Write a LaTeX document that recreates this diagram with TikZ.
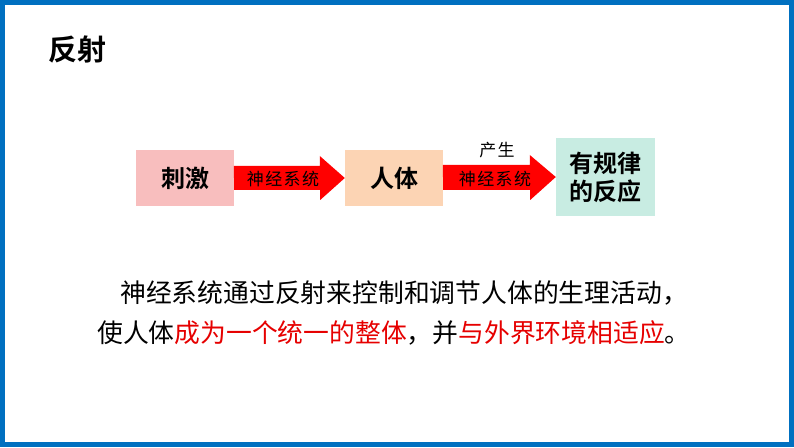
\documentclass[tikz,border=0pt]{standalone}
\usepackage{fontspec}
\newfontfamily\cjk{Noto Sans CJK SC}
\newfontfamily\cjkb{Noto Sans CJK SC Bold}
\definecolor{frameblue}{RGB}{0,112,192}
\definecolor{pinkbox}{RGB}{248,190,190}
\definecolor{peachbox}{RGB}{252,212,180}
\definecolor{mintbox}{RGB}{200,236,226}
\definecolor{redtxt}{RGB}{230,0,0}
\tikzset{x=1pt,y=1pt,
 box/.style={inner sep=0pt,font=\cjkb\fontsize{24}{28}\selectfont,align=center},
 arr/.style={fill=red,draw=none},
 alab/.style={font=\cjk\fontsize{17}{18}\selectfont\addfontfeature{LetterSpace=8}},
 body/.style={font=\cjk\fontsize{25.8}{28}\selectfont,anchor=west,inner sep=0pt}}
\begin{document}
\begin{tikzpicture}
\useasboundingbox (0,0) rectangle (794,447);
\fill[white] (0,0) rectangle (794,447);
\draw[frameblue,line width=5pt] (2.5,2.5) rectangle (791.5,444.5);
\node[font=\cjkb\fontsize{29}{32}\selectfont,anchor=west,inner sep=0pt] (title) at (48,398) {反射};
\node[box,fill=pinkbox,minimum width=98,minimum height=56] (b1) at (185,269) {刺激};
\node[box,fill=peachbox,minimum width=98,minimum height=56] (b2) at (394,269) {人体};
\node[box,fill=mintbox,minimum width=99,minimum height=78] (b3) at (605.5,270) {有规律\\的反应};
\fill[arr] (b1.east) ++(0,-12) -- ++(86,0) -- ++(0,-10) -- (b2.west) -- ++(-25,22) -- ++(0,-10) -- ++(-86,0) -- cycle;
\fill[arr] (b2.east) ++(0,-12) -- ++(87,0) -- ++(0,-10) -- (b3.west) -- ++(-26,22) -- ++(0,-10) -- ++(-87,0) -- cycle;
\node[alab] (l1) at (283,268) {神经系统};
\node[alab] (l2) at (495,268) {神经系统};
\node[alab] (l3) at (497,297) {产生};
\node[body] (t1) at (120,154) {神经系统通过反射来控制和调节人体的生理活动，};
\node[body] (t2) at (97,114) {使人体\textcolor{redtxt}{成为一个统一的整体}，并\textcolor{redtxt}{与外界环境相适应}。};
\end{tikzpicture}
\end{document}
